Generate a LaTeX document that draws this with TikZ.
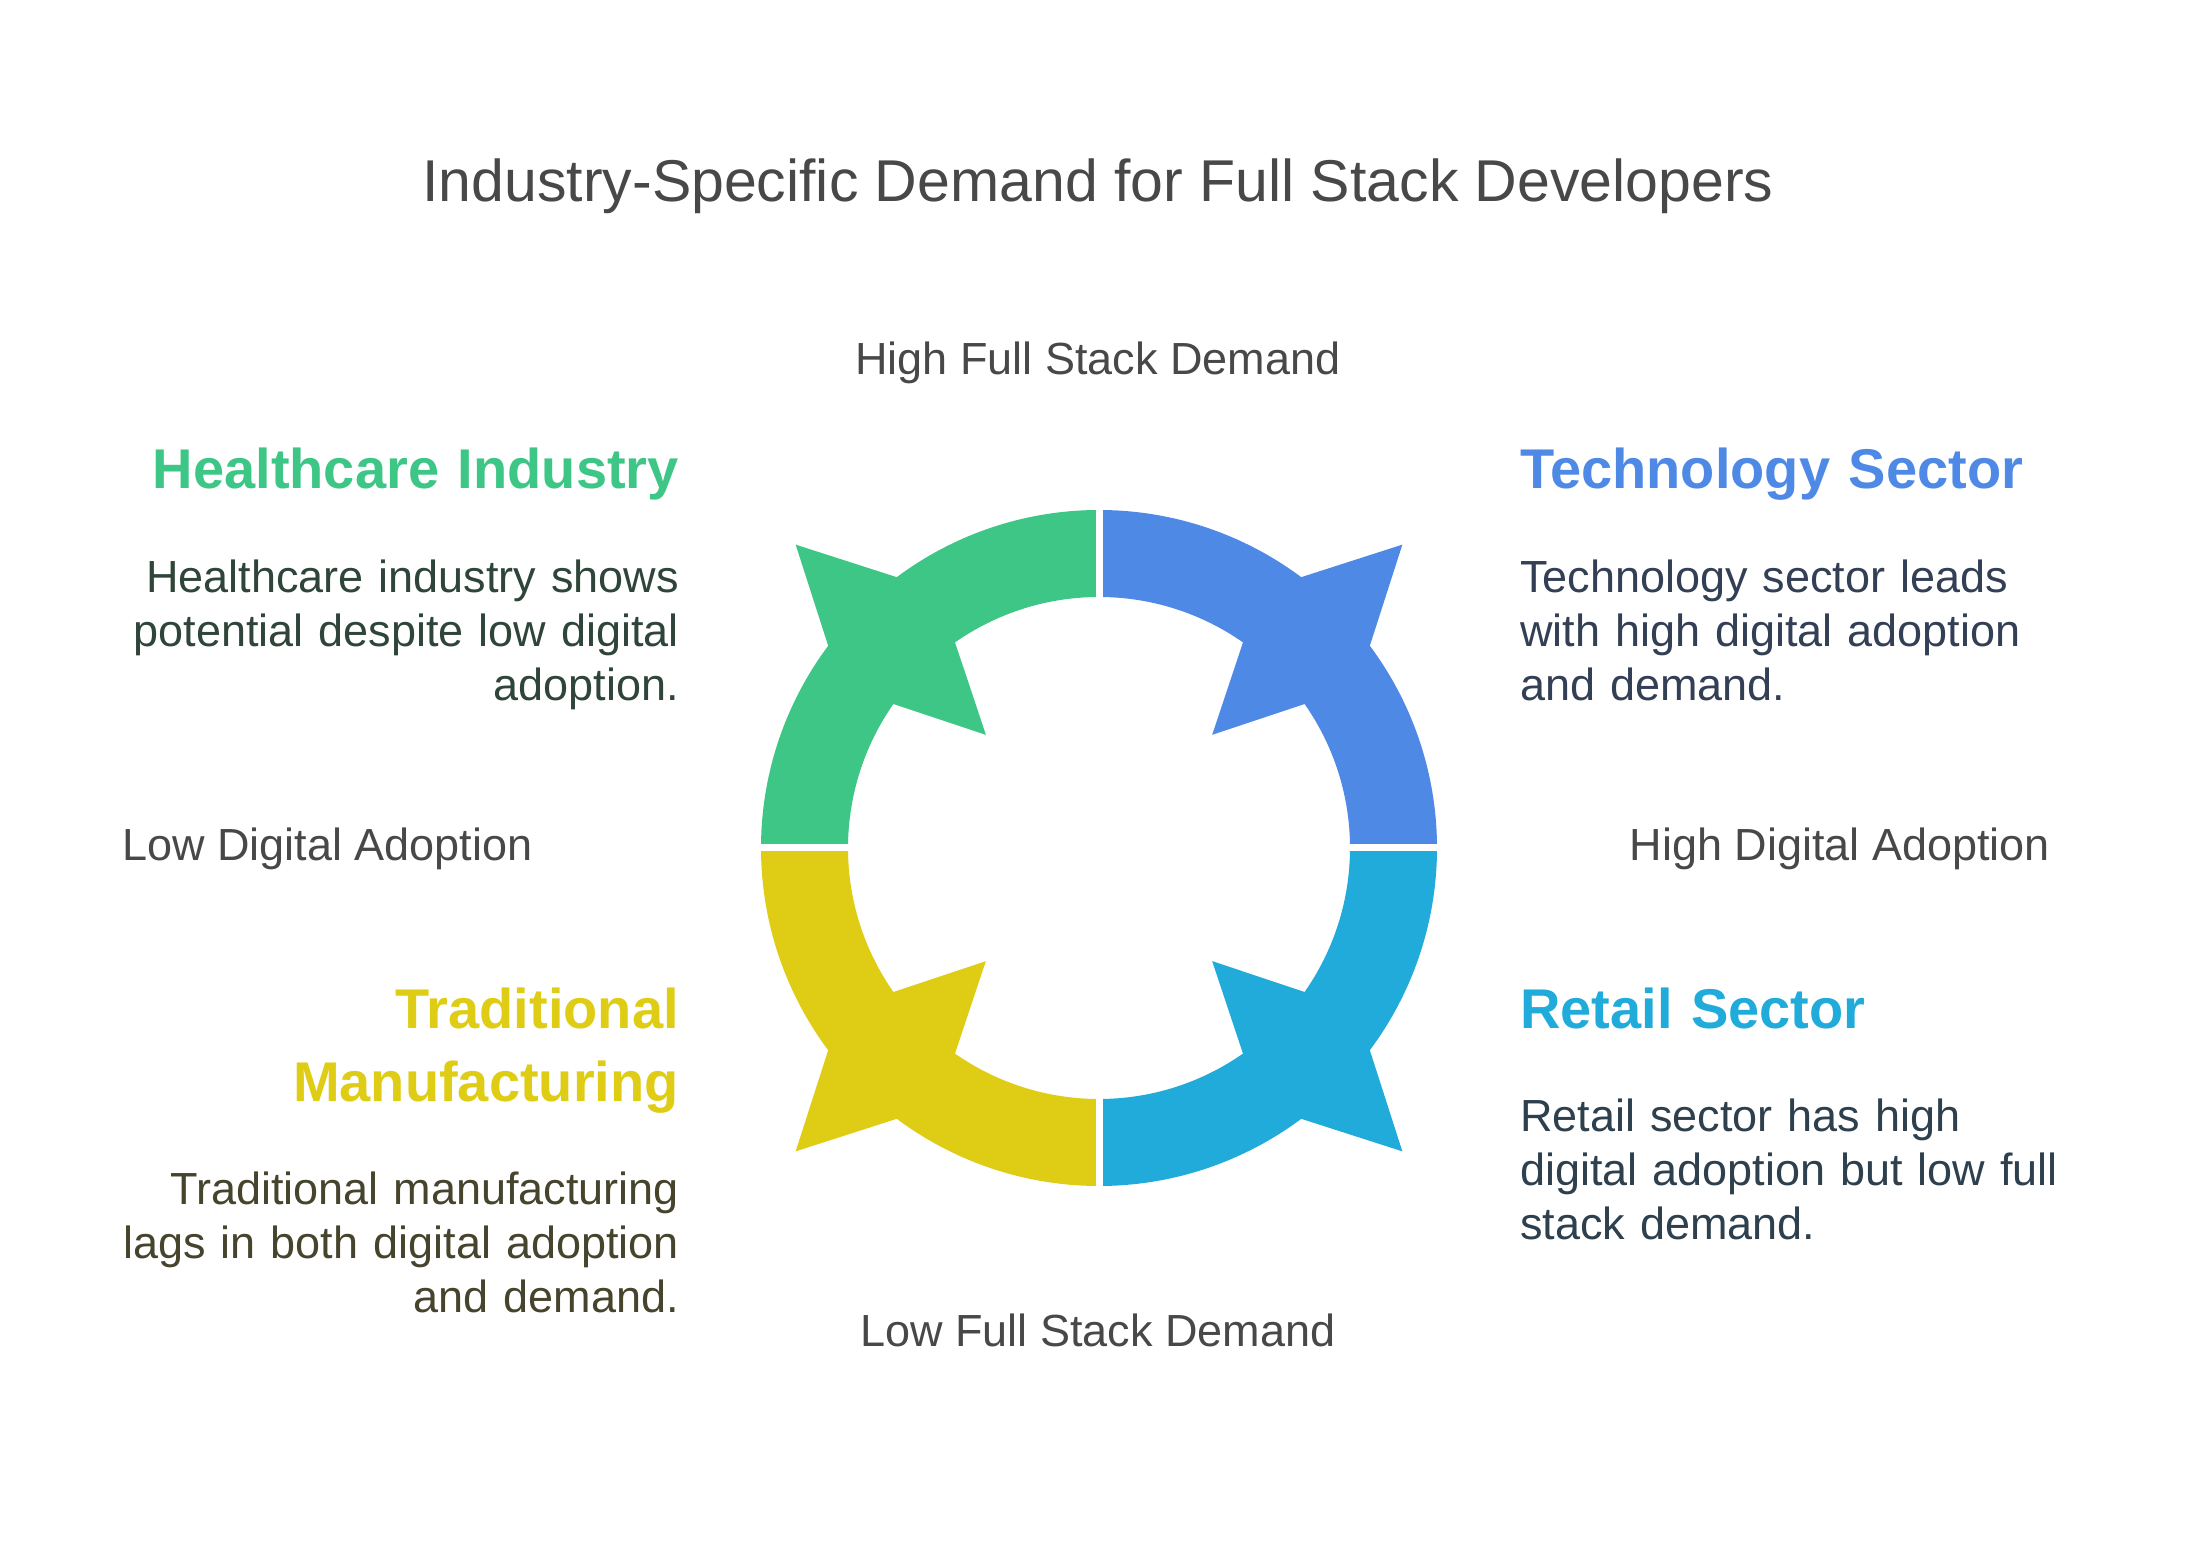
\documentclass[tikz,border=0pt]{standalone}
\usepackage{fontspec}
\setmainfont{Liberation Sans}
\usepackage{tikz}
\usetikzlibrary{calc}
\definecolor{techblue}{HTML}{4F89E6}
\definecolor{retailcyan}{HTML}{20ABDB}
\definecolor{healthgreen}{HTML}{3EC687}
\definecolor{tradyellow}{HTML}{DFCD15}
\definecolor{labelgray}{HTML}{484848}
\definecolor{healthtext}{HTML}{2F4539}
\definecolor{techtext}{HTML}{333F55}
\definecolor{tradtext}{HTML}{46442C}
\definecolor{retailtext}{HTML}{2E404D}
\tikzstyle{sect_head} = [inner sep=0pt, text width=600pt, font=\fontsize{56}{73}\selectfont\bfseries]
\tikzstyle{sect_body} = [inner sep=0pt, text width=600pt, font=\fontsize{45}{54}\selectfont]
\tikzstyle{axis_lbl} = [inner sep=0pt, text=labelgray, font=\fontsize{45}{54}\selectfont]
\tikzstyle{gap} = [draw=white, line width=7]

\begin{document}
\begin{tikzpicture}[x=1pt, y=1pt]
\useasboundingbox [fill=white] (0,0) rectangle (2196,1548);

\node [inner sep=0pt, text=labelgray, font=\fontsize{59}{70}\selectfont, anchor=base] (title) at (1098,1346) {Industry-Specific Demand for Full Stack Developers};

\begin{scope}[shift={(1099,700)}]
\foreach \a/\col in {0/techblue, 90/healthgreen, 180/tradyellow, 270/retailcyan} {
  \pgfmathsetmacro\m{\a+45}
  \fill [\col] (\a:338) arc [start angle=\a, end angle=\m-8.25, radius=338] -- (\m:429) -- (\m+8.25:338)
    arc [start angle=\m+8.25, end angle=\a+90, radius=338] -- (\a+90:251)
    arc [start angle=\a+90, end angle=\m+10, radius=251] -- (\m:160) -- (\m-10:251)
    arc [start angle=\m-10, end angle=\a, radius=251] -- cycle;
}
\coordinate (ring_n) at (0,346);
\coordinate (ring_s) at (0,-346);
\coordinate (ring_w) at (-346,0);
\coordinate (ring_e) at (346,0);
\path [gap] (ring_n) -- (ring_s);
\path [gap] (ring_w) -- (ring_e);
\end{scope}

\node [axis_lbl, anchor=base] (hfsd) at (1098,1173) {High Full Stack Demand};
\node [axis_lbl, anchor=base] (lfsd) at (1098,201) {Low Full Stack Demand};
\node [axis_lbl, anchor=base west] (lda) at (122,687) {Low Digital Adoption};
\node [axis_lbl, anchor=base east] (hda) at (2050,687) {High Digital Adoption};

\node [sect_head, text=healthgreen, align=right, anchor=base east] (health_h) at (679,1059) {Healthcare Industry};
\node [sect_body, text=healthtext, align=right, anchor=base east] (health_b) at (679,955) {Healthcare industry shows\\potential despite low digital\\adoption.};

\node [sect_head, text=techblue, align=left, anchor=base west] (tech_h) at (1520,1059) {Technology Sector};
\node [sect_body, text=techtext, align=left, anchor=base west] (tech_b) at (1520,955) {Technology sector leads\\with high digital adoption\\and demand.};

\node [sect_head, text=tradyellow, align=right, anchor=base east] (trad_h) at (679,519) {Traditional\\Manufacturing};
\node [sect_body, text=tradtext, align=right, anchor=base east] (trad_b) at (679,343) {Traditional manufacturing\\lags in both digital adoption\\and demand.};

\node [sect_head, text=retailcyan, align=left, anchor=base west] (retail_h) at (1520,519) {Retail Sector};
\node [sect_body, text=retailtext, align=left, anchor=base west] (retail_b) at (1520,416) {Retail sector has high\\digital adoption but low full\\stack demand.};
\end{tikzpicture}
\end{document}
